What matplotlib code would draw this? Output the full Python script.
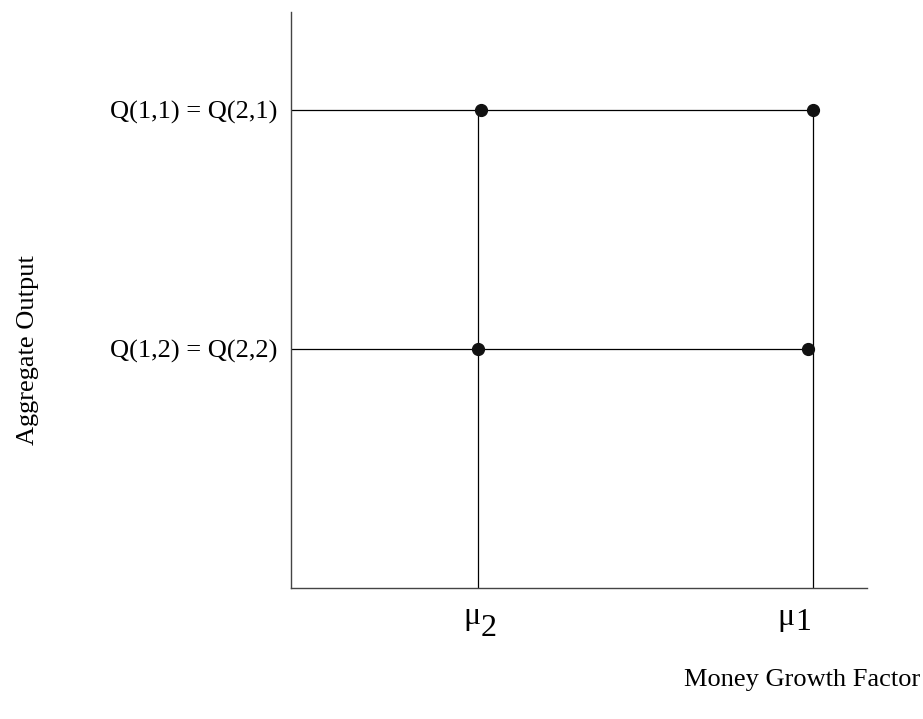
import matplotlib
matplotlib.use('Agg')
import matplotlib.pyplot as plt

plt.rcParams['font.family'] = ['Liberation Serif', 'DejaVu Serif']

# money growth factors (x) and output levels (y), axis scale 0..1
mu_subs = ['2', '1']
mu_vals = [0.325, 0.906]
q_labels = ['Q(1,2) = Q(2,2)', 'Q(1,1) = Q(2,1)']
q_vals = [0.415, 0.830]
# equilibrium points
pts_x = [0.330, 0.906, 0.325, 0.898]
pts_y = [0.830, 0.830, 0.415, 0.415]

fig = plt.figure(figsize=(9.23, 7.19), dpi=100)
ax = fig.add_axes([291/923, 131/719, 576/923, 576/719])
ax.set_xlim(0, 1)
ax.set_ylim(0, 1)

for s in ['top', 'right']:
    ax.spines[s].set_visible(False)
for s in ['left', 'bottom']:
    ax.spines[s].set_color('#444444')
    ax.spines[s].set_linewidth(1.0)

# horizontal lines out from the axis
ax.hlines(q_vals[1], 0, mu_vals[1], color='black', lw=0.9)
ax.hlines(q_vals[0], 0, pts_x[3], color='black', lw=0.9)
# vertical lines down to the axis
ax.vlines(mu_vals[0], 0, q_vals[1], color='black', lw=0.9)
ax.vlines(mu_vals[1], 0, q_vals[1], color='black', lw=0.9)

ax.plot(pts_x, pts_y, 'o', color='#111111', ms=8.5, zorder=3)

ax.set_xticks([])
ax.set_yticks(q_vals)
ax.set_yticklabels(q_labels, fontsize=19)
ax.tick_params(axis='y', length=0, pad=10)

# mu labels: greek letter plus a large subscript digit
offs = [(2, -36, -48), (-18, -37, -42)]
for v, sub, (dx, dmu, dsub) in zip(mu_vals, mu_subs, offs):
    ax.annotate('μ', xy=(v, 0), xytext=(dx, dmu), textcoords='offset pixels',
                ha='right', va='baseline', fontsize=23, annotation_clip=False)
    ax.annotate(sub, xy=(v, 0), xytext=(dx, dsub), textcoords='offset pixels',
                ha='left', va='baseline', fontsize=23, annotation_clip=False)

fig.text(28/923, 1 - 350/719, 'Aggregate Output', rotation=90,
         ha='center', va='center', fontsize=19)
fig.text(920/923, 1 - 680/719, 'Money Growth Factor',
         ha='right', va='center', fontsize=19)

fig.savefig('out.png', dpi=100)
